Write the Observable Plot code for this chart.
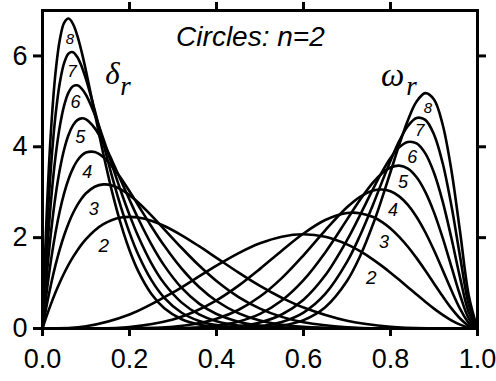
<!DOCTYPE html>
<html><head><meta charset="utf-8">
<script src="https://cdn.jsdelivr.net/npm/d3@7"></script>
<script src="https://cdn.jsdelivr.net/npm/@observablehq/plot@0.6"></script>
<style>html,body{margin:0;padding:0;background:#fff;} svg{display:block}</style>
</head><body><div id="chart"></div>
<script>
// ---- tick labels ----
const xTicks = [0, 0.2, 0.4, 0.6, 0.8, 1.0];
const yTicks = [0, 2, 4, 6];
const xTopTicks = [0.2, 0.4, 0.6, 0.8];
const yRightTicks = [2, 4, 6];

// ---- series order r ----
const orders = [2, 3, 4, 5, 6, 7, 8];

// ---- delta_r curves (peaks on the left) ----
const deltaX = [0, 0.01, 0.02, 0.03, 0.04, 0.05, 0.06, 0.07, 0.08, 0.09, 0.10, 0.12, 0.14, 0.16, 0.18, 0.20, 0.22, 0.25, 0.28, 0.32, 0.36, 0.40, 0.45, 0.50, 0.55, 0.60, 0.70, 0.80, 0.90, 1.00];
const delta2 = [0, 0.2882, 0.5534, 0.7968, 1.0192, 1.2218, 1.4054, 1.5709, 1.7193, 1.8515, 1.9683, 2.1589, 2.2974, 2.3898, 2.4414, 2.4576, 2.4430, 2.3730, 2.2574, 2.0526, 1.8119, 1.5552, 1.2353, 0.9375, 0.6766, 0.4608, 0.1701, 0.0384, 0.0027, 0];
const delta3 = [0, 0.5272, 0.9921, 1.3994, 1.7534, 2.0583, 2.3180, 2.5362, 2.7164, 2.8621, 2.9761, 3.1208, 3.1718, 3.1476, 3.0644, 2.9360, 2.7745, 2.4917, 2.1844, 1.7717, 1.3854, 1.0451, 0.6976, 0.4375, 0.2558, 0.1376, 0.0286, 0.0029, 0, 0];
const delta4 = [0, 0.8305, 1.5314, 2.1161, 2.5970, 2.9854, 3.2917, 3.5255, 3.6952, 3.8090, 3.8742, 3.8841, 3.7702, 3.5695, 3.3116, 3.0199, 2.7128, 2.2525, 1.8199, 1.3167, 0.9121, 0.6047, 0.3391, 0.1758, 0.0832, 0.0354, 0.0041, 0.0002, 0, 0];
const delta5 = [0, 1.1938, 2.1571, 2.9202, 3.5103, 3.9517, 4.2659, 4.4720, 4.5873, 4.6263, 4.6026, 4.4115, 4.0896, 3.6939, 3.2658, 2.8347, 2.4208, 1.8582, 1.3838, 0.8930, 0.5479, 0.3193, 0.1505, 0.0645, 0.0247, 0.0083, 0.0005, 0, 0, 0];
const delta6 = [0, 1.6132, 2.8564, 3.7884, 4.4605, 4.9173, 5.1973, 5.3328, 5.3531, 5.2822, 5.1402, 4.7103, 4.1706, 3.5937, 3.0277, 2.5014, 2.0304, 1.4414, 0.9891, 0.5693, 0.3094, 0.1585, 0.0627, 0.0222, 0.0069, 0.0018, 0.0001, 0, 0, 0];
const delta7 = [0, 2.0850, 3.6175, 4.7004, 5.4208, 5.8520, 6.0555, 6.0828, 5.9747, 5.7681, 5.4904, 4.8101, 4.0673, 3.3439, 2.6849, 2.1110, 1.6289, 1.0692, 0.6760, 0.3471, 0.1671, 0.0752, 0.0251, 0.0073, 0.0018, 0.0004, 0, 0, 0, 0];
const delta8 = [0, 2.6055, 4.4297, 5.6388, 6.3697, 6.7340, 6.8222, 6.7070, 6.4473, 6.0899, 5.6702, 4.7492, 3.8355, 3.0081, 2.3018, 1.7226, 1.2636, 0.7665, 0.4468, 0.2047, 0.0872, 0.0345, 0.0097, 0.0023, 0.0005, 0.0001, 0, 0, 0, 0];

// ---- omega_r curves (peaks on the right) ----
const omegaX = [0, 0.1, 0.2, 0.3, 0.35, 0.4, 0.45, 0.5, 0.55, 0.6, 0.65, 0.7, 0.73, 0.76, 0.78, 0.8, 0.82, 0.84, 0.86, 0.88, 0.9, 0.92, 0.94, 0.96, 0.98, 1.0];
const omega2 = [0, 0.0486, 0.3072, 0.7938, 1.0869, 1.3824, 1.6539, 1.8750, 2.0215, 2.0736, 2.0185, 1.8522, 1.7016, 1.5171, 1.3781, 1.2288, 1.0719, 0.9104, 0.7480, 0.5888, 0.4374, 0.2990, 0.1794, 0.0849, 0.0226, 0];
const omega3 = [0, 0.0014, 0.0344, 0.2000, 0.3728, 0.6193, 0.9378, 1.3125, 1.7122, 2.0902, 2.3879, 2.5412, 2.5389, 2.4536, 2.3476, 2.2020, 2.0180, 1.7987, 1.5490, 1.2767, 0.9920, 0.7086, 0.4439, 0.2192, 0.0607, 0];
const omega4 = [0, 0, 0.0030, 0.0386, 0.0978, 0.2123, 0.4070, 0.7031, 1.1098, 1.6122, 2.1619, 2.6683, 2.8993, 3.0368, 3.0606, 3.0199, 2.9077, 2.7196, 2.4550, 2.1186, 1.7219, 1.2853, 0.8404, 0.4328, 0.1250, 0];
const omega5 = [0, 0, 0.0002, 0.0064, 0.0220, 0.0623, 0.1511, 0.3223, 0.6155, 1.0642, 1.6746, 2.3970, 2.8326, 3.2158, 3.4139, 3.5434, 3.5844, 3.5180, 3.3288, 3.0078, 2.5570, 1.9944, 1.3614, 0.7313, 0.2201, 0];
const omega6 = [0, 0, 0, 0.0010, 0.0045, 0.0165, 0.0506, 0.1333, 0.3080, 0.6339, 1.1706, 1.9433, 2.4975, 3.0732, 3.4364, 3.7521, 3.9877, 4.1071, 4.0734, 3.8539, 3.4268, 2.7930, 1.9904, 1.1151, 0.3498, 0];
const omega7 = [0, 0, 0, 0.0001, 0.0008, 0.0041, 0.0158, 0.0513, 0.1434, 0.3511, 0.7608, 1.4650, 2.0476, 2.7310, 3.2165, 3.6944, 4.1251, 4.4585, 4.6350, 4.5914, 4.2703, 3.6369, 2.7057, 1.5810, 0.5167, 0];
const omega8 = [0, 0, 0, 0, 0.0002, 0.0010, 0.0047, 0.0187, 0.0632, 0.1841, 0.4684, 1.0461, 1.5899, 2.2985, 2.8515, 3.4452, 4.0416, 4.5840, 4.9951, 5.1810, 5.0402, 4.4855, 3.4836, 2.1232, 0.7232, 0];

// ---- curve number label anchors (data units), in order r = 2..8 ----
const deltaLabelX = [0.141, 0.118, 0.103, 0.087, 0.076, 0.068, 0.063];
const deltaLabelY = [1.82, 2.63, 3.45, 4.20, 4.99, 5.65, 6.37];
const omegaLabelX = [0.756, 0.785, 0.806, 0.829, 0.850, 0.867, 0.886];
const omegaLabelY = [1.12, 1.89, 2.60, 3.21, 3.76, 4.35, 4.86];

// ---- annotation texts ----
const titleText = "Circles: n=2";
const titleAt = [0.478, 6.22];
const deltaSymbol = "δ", omegaSymbol = "ω", subText = "r";
const deltaSymAt = [0.161, 5.60], deltaSubAt = [0.191, 5.32];
const omegaSymAt = [0.805, 5.56], omegaSubAt = [0.848, 5.34];

// ---- build tables ----
const deltaSeries = [delta2, delta3, delta4, delta5, delta6, delta7, delta8];
const omegaSeries = [omega2, omega3, omega4, omega5, omega6, omega7, omega8];
const rows = [];
orders.forEach((r, i) => {
  deltaX.forEach((x, j) => rows.push({key: "d" + r, x, y: deltaSeries[i][j]}));
  omegaX.forEach((x, j) => rows.push({key: "w" + r, x, y: omegaSeries[i][j]}));
});
const labels = orders.flatMap((r, i) => [
  {r, x: deltaLabelX[i], y: deltaLabelY[i]},
  {r, x: omegaLabelX[i], y: omegaLabelY[i]}
]);
const sizeFor = r => r === 8 ? 15 : r === 7 ? 17 : r === 2 ? 19 : 18;
const serif = "'Liberation Serif', 'Times New Roman', serif";
const blank = () => "";

const chart = Plot.plot({
  width: 496, height: 381,
  marginLeft: 42, marginRight: 19, marginTop: 10, marginBottom: 53,
  x: {domain: [0, 1], label: null},
  y: {domain: [0, 7], label: null},
  style: {fontFamily: "'Liberation Sans', Arial, sans-serif", background: "#fff", color: "#000"},
  marks: [
    Plot.line(rows, {x: "x", y: "y", z: "key", stroke: "#000", strokeWidth: 2.6, curve: "catmull-rom"}),
    Plot.text(labels, {x: "x", y: "y", text: d => String(d.r), fontStyle: "italic", fontSize: d => sizeFor(d.r), fill: "#000"}),
    Plot.text([titleText], {x: () => titleAt[0], y: () => titleAt[1], text: d => d, fontStyle: "italic", fontSize: 28, lineAnchor: "bottom", fill: "#000"}),
    Plot.text([deltaSymbol], {x: () => deltaSymAt[0], y: () => deltaSymAt[1], text: d => d, fontFamily: serif, fontStyle: "italic", fontSize: 31, fill: "#000"}),
    Plot.text([subText], {x: () => deltaSubAt[0], y: () => deltaSubAt[1], text: d => d, fontFamily: serif, fontStyle: "italic", fontSize: 27, fill: "#000"}),
    Plot.text([omegaSymbol], {x: () => omegaSymAt[0], y: () => omegaSymAt[1], text: d => d, fontFamily: serif, fontStyle: "italic", fontSize: 33, fill: "#000"}),
    Plot.text([subText], {x: () => omegaSubAt[0], y: () => omegaSubAt[1], text: d => d, fontFamily: serif, fontStyle: "italic", fontSize: 27, fill: "#000"}),
    Plot.axisX(xTicks, {anchor: "bottom", tickSize: 8, tickPadding: 12, strokeWidth: 3, fontSize: 27, tickFormat: d3.format(".1f"), label: null}),
    Plot.axisY(yTicks, {anchor: "left", tickSize: 9, tickPadding: 6, strokeWidth: 3, fontSize: 27, label: null}),
    Plot.axisX(xTopTicks, {anchor: "top", tickSize: 9, strokeWidth: 3, tickFormat: blank, label: null}),
    Plot.axisY(yRightTicks, {anchor: "right", tickSize: 8, strokeWidth: 3, tickFormat: blank, label: null}),
    Plot.frame({stroke: "#000", strokeWidth: 3})
  ]
});
document.getElementById("chart").appendChild(chart);
</script>
</body></html>
